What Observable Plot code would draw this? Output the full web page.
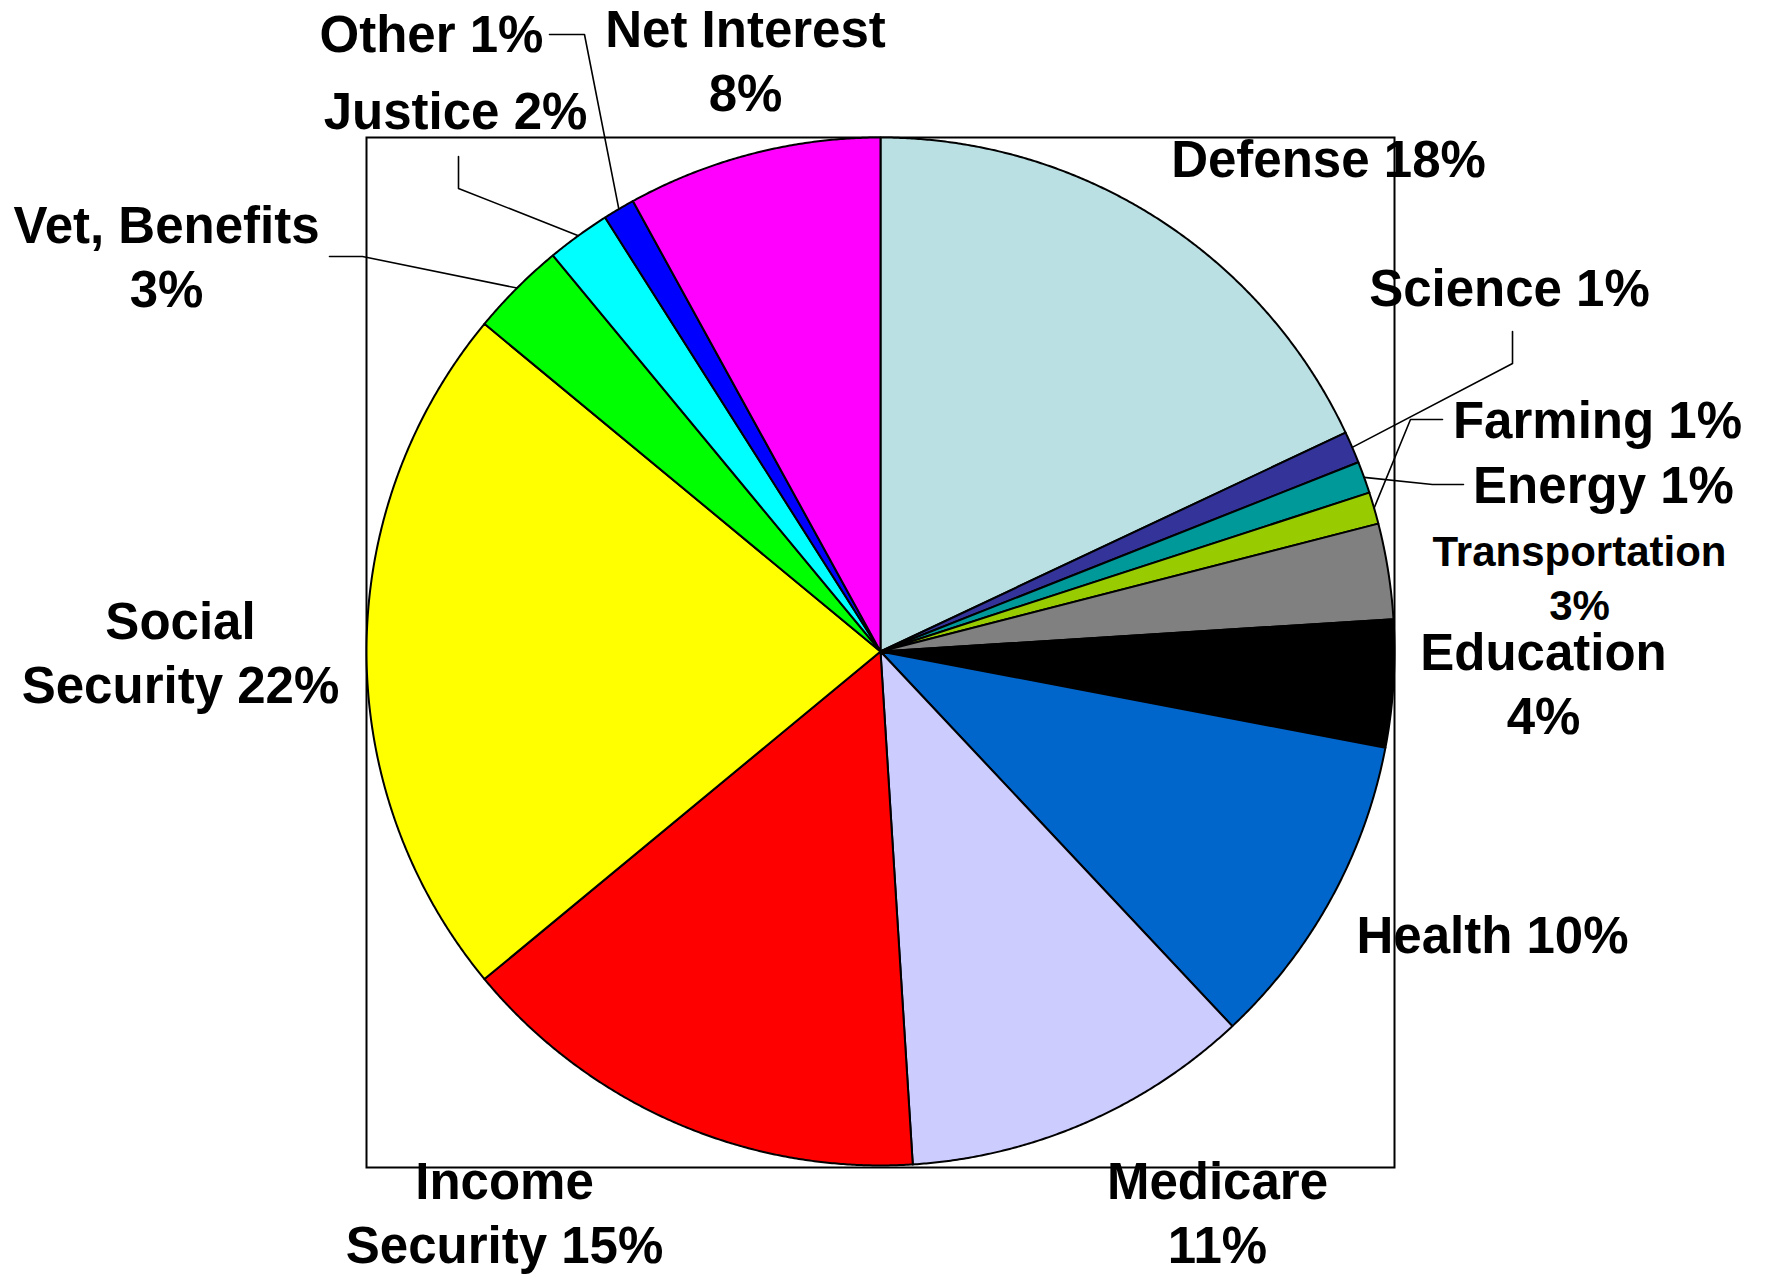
<!DOCTYPE html>
<html>
<head>
<meta charset="utf-8">
<script src="https://cdn.jsdelivr.net/npm/d3@7"></script>
<script src="https://cdn.jsdelivr.net/npm/@observablehq/plot@0.6"></script>
<style>
  html, body { margin: 0; padding: 0; background: white; }
  #chart svg { display: block; }
</style>
</head>
<body>
<div id="chart"></div>
<script>
// ---- Data (clockwise from 12 o'clock) ----
const categories = ["Defense", "Science", "Energy", "Farming", "Transportation", "Education", "Health",
  "Medicare", "Income Security", "Social Security", "Vet, Benefits", "Justice", "Other", "Net Interest"];
const percents = [18, 1, 1, 1, 3, 4, 10, 11, 15, 22, 3, 2, 1, 8];
const sliceColors = ["#BBE0E3", "#333399", "#009999", "#99CC00", "#808080", "#000000", "#0066CC",
  "#CCCCFF", "#FF0000", "#FFFF00", "#00FF00", "#00FFFF", "#0000FF", "#FF00FF"];
const labelTexts = ["Defense 18%", "Science 1%", "Energy 1%", "Farming 1%", "Transportation\n3%", "Education\n4%",
  "Health 10%", "Medicare\n11%", "Income\nSecurity 15%", "Social\nSecurity 22%", "Vet, Benefits\n3%",
  "Justice 2%", "Other 1%", "Net Interest\n8%"];

// ---- Layout (label anchor = baseline of last line, in plot units; radius = 1) ----
const labelPos = [
  [0.8716, 0.9241], [1.2237, 0.6712], [1.4066, 0.2879], [1.3949, 0.4144], [1.3599, 0.0603],
  [1.2899, -0.1615], [1.1907, -0.5875], [0.6556, -1.1907], [-0.7315, -1.1907], [-1.3619, -0.1012],
  [-1.3891, 0.6693], [-0.8268, 1.0156], [-0.8735, 1.1654], [-0.2626, 1.0506]
];
// leader lines: category -> [start near label, elbow]; end is the slice's mid-arc point
const leaderLayout = {
  "Science": [[1.2296, 0.6226], [1.2296, 0.5603]],
  "Energy": [[1.1342, 0.3249], [1.0739, 0.3249]],
  "Farming": [[1.0934, 0.4514], [1.0311, 0.4514]],
  "Vet, Benefits": [[-1.0720, 0.7685], [-1.0078, 0.7685]],
  "Justice": [[-0.8210, 0.9630], [-0.8210, 0.9008]],
  "Other": [[-0.6440, 1.2004], [-0.5759, 1.2004]]
};

// ---- Build geometry from data ----
const rows = categories.map((name, i) => ({name, value: percents[i], color: sliceColors[i]}));
const arcs = d3.pie().sort(null).value(d => d.value).startAngle(0).endAngle(2 * Math.PI)(rows);

const slicePts = [];
for (const a of arcs) {
  const name = a.data.name, color = a.data.color;
  slicePts.push({name, color, x: 0, y: 0});
  const steps = Math.max(2, Math.ceil((a.endAngle - a.startAngle) / (Math.PI / 720)));
  for (let k = 0; k <= steps; ++k) {
    const t = a.startAngle + (a.endAngle - a.startAngle) * k / steps;
    slicePts.push({name, color, x: Math.sin(t), y: Math.cos(t)});
  }
}

const leaderPts = [];
for (const a of arcs) {
  const lay = leaderLayout[a.data.name];
  if (!lay) continue;
  const mid = (a.startAngle + a.endAngle) / 2;
  for (const p of lay) leaderPts.push({name: a.data.name, x: p[0], y: p[1]});
  leaderPts.push({name: a.data.name, x: Math.sin(mid), y: Math.cos(mid)});
}

const labels = categories.map((name, i) => ({name, text: labelTexts[i], x: labelPos[i][0], y: labelPos[i][1]}));
const bigLabels = labels.filter(d => d.name !== "Transportation");
const smallLabels = labels.filter(d => d.name === "Transportation");

const chart = Plot.plot({
  width: 1766,
  height: 1275,
  marginLeft: 366,
  marginRight: 372,
  marginTop: 137,
  marginBottom: 108,
  x: {domain: [-1, 1], axis: null},
  y: {domain: [-1.004, 1], axis: null},
  color: {type: "identity"},
  style: {fontFamily: "'Liberation Sans', Arial, sans-serif", background: "white", color: "black"},
  marks: [
    Plot.frame({stroke: "black", strokeWidth: 2}),
    Plot.line(slicePts, {x: "x", y: "y", z: "name", fill: "color", stroke: "black", strokeWidth: 2,
      strokeLinejoin: "round", curve: "linear-closed"}),
    Plot.line(leaderPts, {x: "x", y: "y", z: "name", stroke: "black", strokeWidth: 1.6}),
    Plot.text(bigLabels, {x: "x", y: "y", text: "text", fontSize: 51, fontWeight: "bold",
      textAnchor: "middle", lineAnchor: "bottom", lineHeight: 1.255, fill: "black"}),
    Plot.text(smallLabels, {x: "x", y: "y", text: "text", fontSize: 42, fontWeight: "bold",
      textAnchor: "middle", lineAnchor: "bottom", lineHeight: 1.286, fill: "black"})
  ]
});
document.getElementById("chart").append(chart);
</script>
</body>
</html>
